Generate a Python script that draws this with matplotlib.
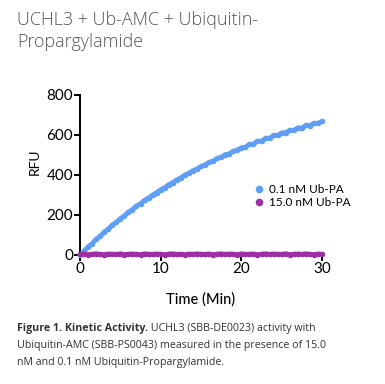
import matplotlib
matplotlib.use("Agg")
import matplotlib.pyplot as plt
from matplotlib.lines import Line2D

# ---- data ----
time_min = [0, 0.5, 1, 1.5, 2, 2.5, 3, 3.5, 4, 4.5, 5, 5.5, 6, 6.5, 7, 7.5, 8, 8.5, 9, 9.5,
            10, 10.5, 11, 11.5, 12, 12.5, 13, 13.5, 14, 14.5, 15, 15.5, 16, 16.5, 17, 17.5,
            18, 18.5, 19, 19.5, 20, 20.5, 21, 21.5, 22, 22.5, 23, 23.5, 24, 24.5, 25, 25.5,
            26, 26.5, 27, 27.5, 28, 28.5, 29, 29.5, 30]
rfu_low = [0, 19, 41, 57, 79, 94, 115, 130, 150, 163, 182, 196, 214, 227, 245, 256, 274, 285,
           300, 312, 327, 337, 352, 362, 376, 386, 400, 408, 422, 430, 443, 450, 463, 470,
           483, 488, 502, 506, 519, 523, 536, 539, 553, 555, 569, 570, 584, 584, 598, 598,
           611, 611, 624, 623, 636, 635, 648, 646, 659, 658, 668]
rfu_high = [3, 5, 2, 4, 6, 3, 2, 5, 4, 3, 6, 2, 4, 5, 3, 2, 6, 4, 3, 5, 4, 2, 5, 6, 3, 4,
            2, 5, 3, 6, 4, 3, 5, 2, 4, 6, 3, 5, 4, 2, 6, 3, 4, 5, 2, 4, 6, 3, 5, 4, 3, 6,
            2, 4, 5, 3, 6, 4, 2, 5, 4]
series_labels = ["0.1 nM Ub-PA", "15.0 nM Ub-PA"]
x_ticks = [0, 10, 20, 30]
y_ticks = [0, 200, 400, 600, 800]
title_lines = ["UCHL3 + Ub-AMC + Ubiquitin-", "Propargylamide"]
caption_bold = "Figure 1. Kinetic Activity."
caption_rest = [" UCHL3 (SBB-DE0023) activity with",
                "Ubiquitin-AMC (SBB-PS0043) measured in the presence of 15.0",
                "nM and 0.1 nM Ubiquitin-Propargylamide."]

blue = "#5E9EF6"
purple = "#9C2FA3"

W, H = 385, 384
fig = plt.figure(figsize=(W / 100, H / 100), dpi=100)
fig.patch.set_facecolor("white")

ax = fig.add_axes([80 / W, 1 - 255 / H, (322 - 80) / W, (255 - 95) / H])

ax.plot(time_min, rfu_low, color=blue, lw=3.4, marker="o", ms=3.0, mec=blue,
        solid_capstyle="round", zorder=3, clip_on=False)
ax.plot(time_min, rfu_high, color=purple, lw=3.4, marker="o", ms=3.0, mec=purple,
        solid_capstyle="round", zorder=4, clip_on=False)

ax.set_xlim(0, 30)
ax.set_ylim(0, 800)
ax.set_xticks(x_ticks)
ax.set_yticks(y_ticks)
for s in ["top", "right"]:
    ax.spines[s].set_visible(False)
for s in ["left", "bottom"]:
    ax.spines[s].set_linewidth(1.4)
    ax.spines[s].set_color("black")
ax.tick_params(direction="out", length=4, width=1.4, labelsize=11, pad=1, colors="black")
for lab in ax.get_xticklabels() + ax.get_yticklabels():
    lab.set_family("Lato")

ax.set_xlabel("Time (Min)", fontsize=10.5, family="Lato", fontweight="medium")
ax.xaxis.set_label_coords(0.5, -0.234)
ax.set_ylabel("RFU", fontsize=10, family="Lato")
ax.yaxis.set_label_coords(-0.161, 0.58)

handles = [Line2D([], [], ls="none", marker="o", ms=4.5, color=blue),
           Line2D([], [], ls="none", marker="o", ms=4.5, color=purple)]
ax.legend(handles, series_labels, loc="upper left", bbox_to_anchor=(0.7, 0.48),
          frameon=False, handlelength=0.6, handletextpad=0.6,
          labelspacing=0.15, borderpad=0, prop={"family": "Lato", "size": 8.5})

# title
fig.text(17 / W, 1 - 25 / H, title_lines[0], fontsize=12.9, color="#555555",
         family="Open Sans", fontweight="light", va="baseline")
fig.text(17 / W, 1 - 47 / H, title_lines[1], fontsize=12.9, color="#555555",
         family="Open Sans", fontweight="light", va="baseline")

# caption
cap_color = "#333333"
t_bold = fig.text(17 / W, 1 - 331 / H, caption_bold, fontsize=7.7, fontweight="bold",
                  color=cap_color, family="Open Sans", va="baseline")
fig.canvas.draw()
bb = t_bold.get_window_extent(renderer=fig.canvas.get_renderer())
fig.text(bb.x1 / W, 1 - 331 / H, caption_rest[0], fontsize=7.7, color=cap_color,
         family="Open Sans", va="baseline")
fig.text(17 / W, 1 - 348 / H, caption_rest[1], fontsize=7.7, color=cap_color,
         family="Open Sans", va="baseline")
fig.text(17 / W, 1 - 365 / H, caption_rest[2], fontsize=7.7, color=cap_color,
         family="Open Sans", va="baseline")

fig.savefig("out.png", dpi=100, facecolor="white")
